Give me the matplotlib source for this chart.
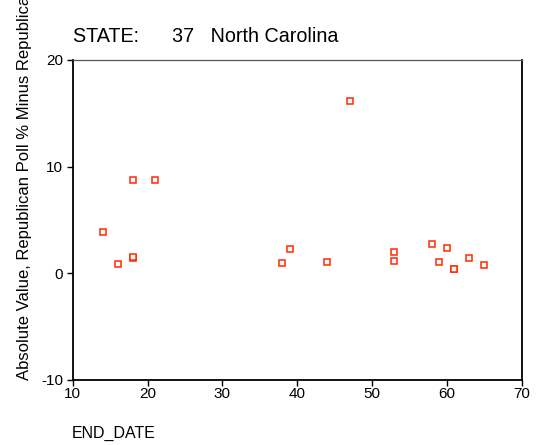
import matplotlib
matplotlib.use("Agg")
import matplotlib.pyplot as plt

plt.rcParams['font.family'] = ['Liberation Sans', 'DejaVu Sans']
plt.rcParams['axes.unicode_minus'] = False

# END_DATE vs absolute poll error, North Carolina
end_date = [14, 16, 18, 18, 18, 21, 38, 39, 44, 47, 53, 53, 58, 59, 60, 61, 61, 63, 65]
abs_diff = [3.87, 0.87, 1.45, 1.55, 8.77, 8.77, 0.97, 2.28, 1.06, 16.17,
            2.02, 1.18, 2.72, 1.09, 2.40, 0.40, 0.45, 1.41, 0.75]

x_ticks = [10, 20, 30, 40, 50, 60, 70]
y_ticks = [-10, 0, 10, 20]

fig = plt.figure(figsize=(5.36, 4.45), dpi=100)
ax = fig.add_axes([0.1356, 0.1461, 0.8377, 0.7191])

ax.plot(end_date, abs_diff, linestyle='none', marker='s', markersize=5,
        markerfacecolor='white', markeredgecolor='#ff2a00', markeredgewidth=1.1)

ax.set_xlim(10, 70)
ax.set_ylim(-10, 20)
ax.set_xticks(x_ticks)
ax.set_yticks(y_ticks)
ax.tick_params(axis='both', direction='out', length=4, width=1, labelsize=11)
ax.tick_params(axis='x', pad=1)
ax.tick_params(axis='y', pad=3)
ax.tick_params(top=False, right=False)
for side in ['left', 'bottom', 'right']:
    ax.spines[side].set_linewidth(1.3)
ax.spines['top'].set_linewidth(0.9)
ax.spines['top'].set_color('#555555')

fig.text(73 / 536, 1 - 41.5 / 445, 'STATE:      37   North Carolina',
         fontsize=14.2, ha='left', va='baseline')
fig.text(72 / 536, 1 - 438 / 445, 'END_DATE', fontsize=11.5, ha='left', va='baseline')
fig.text(29 / 536, 1 - 380 / 445, 'Absolute Value, Republican Poll % Minus Republican Vote %',
         fontsize=12, rotation=90, rotation_mode='anchor', ha='left', va='baseline')

fig.savefig('out.png', dpi=100)
